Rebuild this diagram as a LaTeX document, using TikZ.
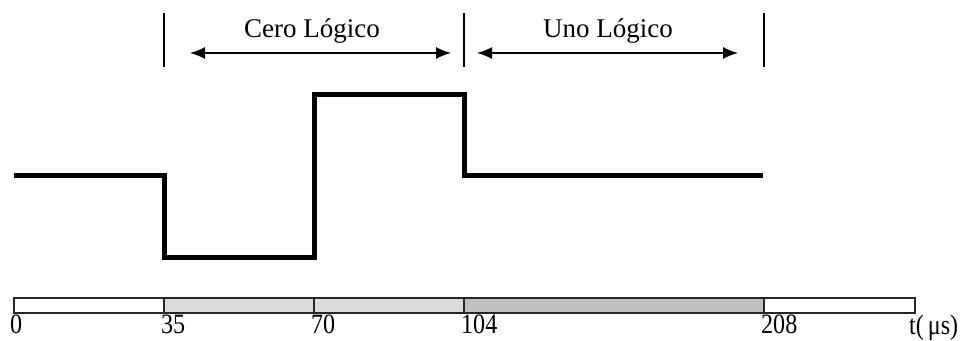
\documentclass[tikz,border=0pt]{standalone}
\usepackage{fontspec}
\setmainfont{Liberation Serif}
\usetikzlibrary{arrows.meta}

\newcommand{\narrow}[1]{\scalebox{0.86}[1]{#1}}

\tikzset{
	signal/.style={line width=5pt, line join=miter},
	tickline/.style={line width=1.3pt},
	span/.style={line width=1.4pt, {Latex[length=15pt,width=12pt]}-{Latex[length=15pt,width=12pt]}},
	timebar/.style={line width=1.6pt, draw=black!85},
	ticklabel/.style={anchor=north west, inner sep=0pt, font=\fontsize{28}{28}\selectfont},
	toplabel/.style={anchor=base, inner sep=0pt, font=\fontsize{27}{27}\selectfont}
}

\begin{document}
\begin{tikzpicture}[x=1pt, y=-1pt]
		%%%%% START %%%%%
		\useasboundingbox (0, 0) rectangle (977, 340);
		
		% marcas superiores
		\coordinate (m35) at (164, 13);
		\coordinate (m104) at (464, 13);
		\coordinate (m208) at (764, 13);
		\draw[tickline] (m35) -- ++(0, 54);
		\draw[tickline] (m104) -- ++(0, 54);
		\draw[tickline] (m208) -- ++(0, 54);
		
		\coordinate (ceroA) at (190, 53);
		\coordinate (ceroB) at (451, 53);
		\coordinate (unoA) at (477, 53);
		\coordinate (unoB) at (738, 53);
		\draw[span] (ceroA) -- (ceroB);
		\draw[span] (unoA) -- (unoB);
		\node[toplabel] (cero) at (312, 37) {Cero Lógico};
		\node[toplabel] (uno) at (608, 37) {Uno Lógico};
		
		% senal
		\draw[signal] (14, 175.5) -- (164.5, 175.5) -- (164.5, 257.5) -- (314.5, 257.5)
			-- (314.5, 94.5) -- (464.5, 94.5) -- (464.5, 175.5) -- (763, 175.5);
		
		% barra de tiempo
		\fill[white] (14, 298) rectangle (164, 313);
		\fill[black!14] (164, 298) rectangle (464, 313);
		\fill[black!25] (464, 298) rectangle (764, 313);
		\fill[white] (764, 298) rectangle (915, 313);
		\draw[timebar] (14, 298) rectangle (915, 313);
		\foreach \x in {164, 314, 464, 764}
			\draw[timebar] (\x, 298) -- (\x, 313);
		
		\node[ticklabel] (t0) at (10, 315) {\narrow{0}};
		\node[ticklabel] (t35) at (161, 315) {\narrow{35}};
		\node[ticklabel] (t70) at (311, 315) {\narrow{70}};
		\node[ticklabel] (t104) at (461, 315) {\narrow{104}};
		\node[ticklabel] (t208) at (761, 315) {\narrow{208}};
		\node[ticklabel] (tus) at (909, 315) {\narrow{t(\,μs)}};
		%%%%% END %%%%%
	\end{tikzpicture}
\end{document}
